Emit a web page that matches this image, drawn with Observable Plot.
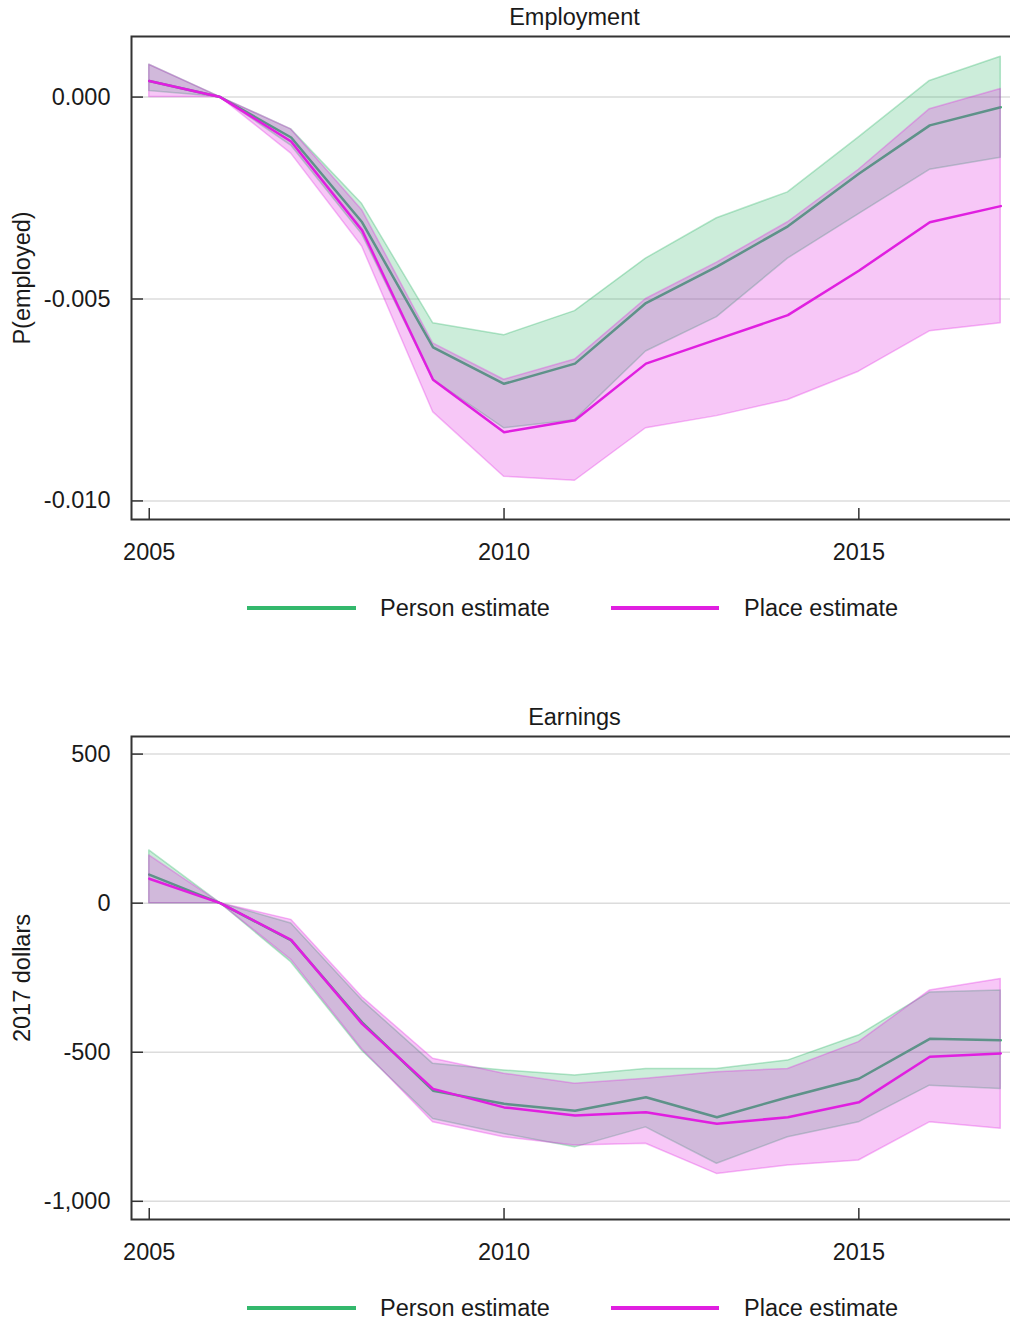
<!DOCTYPE html>
<html><head><meta charset="utf-8">
<script src="https://cdn.jsdelivr.net/npm/d3@7"></script>
<script src="https://cdn.jsdelivr.net/npm/@observablehq/plot@0.6"></script>
<style>
body{margin:0;background:#fff;overflow:hidden;}
#root{position:relative;width:1010px;height:1321px;overflow:hidden;font-family:"Liberation Sans",Arial,sans-serif;color:#1a1a1a;}
.abs{position:absolute;white-space:nowrap;}
.t{font-size:23.5px;line-height:23.5px;}
#root svg{position:absolute;left:0;max-width:none !important;width:1030px !important;height:570px !important;}
</style></head><body><div id="root"></div>
<script>
// ---- data ----
const years = [2005, 2006, 2007, 2008, 2009, 2010, 2011, 2012, 2013, 2014, 2015, 2016, 2017];
const xTicks = [2005, 2010, 2015];

// Employment, P(employed)
const empPerson   = [0.0004, 0, -0.0010, -0.0031, -0.0062, -0.0071, -0.0066, -0.0051, -0.0042, -0.0032, -0.0019, -0.0007, -0.00025];
const empPersonLo = [0.00015, 0, -0.0012, -0.0034, -0.0070, -0.0082, -0.0080, -0.0063, -0.00545, -0.0040, -0.0029, -0.0018, -0.0015];
const empPersonHi = [0.0008, 0, -0.0008, -0.00265, -0.0056, -0.0059, -0.0053, -0.0040, -0.0030, -0.00236, -0.0010, 0.0004, 0.0010];
const empPlace    = [0.0004, 0, -0.0011, -0.0033, -0.0070, -0.0083, -0.0080, -0.0066, -0.0060, -0.0054, -0.0043, -0.0031, -0.0027];
const empPlaceLo  = [0.0000, 0, -0.0014, -0.0037, -0.0078, -0.0094, -0.0095, -0.0082, -0.0079, -0.0075, -0.0068, -0.0058, -0.0056];
const empPlaceHi  = [0.0008, 0, -0.0008, -0.0028, -0.0061, -0.0070, -0.0065, -0.0050, -0.0041, -0.0031, -0.0018, -0.0003, 0.0002];
const empTicks = [0, -0.005, -0.010];

// Earnings, 2017 dollars
const earnPerson   = [96, 0, -125, -400, -629, -673, -696, -651, -718, -651, -589, -455, -460];
const earnPersonLo = [0, 0, -198, -495, -724, -774, -819, -752, -874, -785, -735, -612, -623];
const earnPersonHi = [177, 0, -68, -326, -539, -561, -578, -556, -556, -528, -444, -300, -293];
const earnPlace    = [82, 0, -123, -405, -623, -685, -712, -701, -740, -718, -668, -515, -504];
const earnPlaceLo  = [0, 0, -190, -490, -735, -785, -813, -807, -908, -880, -863, -735, -757];
const earnPlaceHi  = [160, 0, -56, -315, -522, -572, -606, -589, -567, -556, -466, -293, -254];
const earnTicks = [500, 0, -500, -1000];

const seriesNames = ["Person estimate", "Place estimate"];
const green = "#33b86c", magenta = "#e01fe0";

const root = document.getElementById("root");
function el(cls, css, text) {
  const d = document.createElement("div");
  d.className = cls; d.style.cssText = css; if (text != null) d.textContent = text;
  root.appendChild(d); return d;
}
const hyph = s => s.replace(/\u2212/g, "-");

function panel(top, title, ylabel, yDomain, yTicks, fmt, P, PLo, PHi, Q, QLo, QHi) {
  const rows = years.map((year, i) => ({year, p: P[i], pLo: PLo[i], pHi: PHi[i], q: Q[i], qLo: QLo[i], qHi: QHi[i]}));
  const svg = Plot.plot({
    width: 1030, height: 570,
    marginLeft: 131, marginRight: 12, marginTop: 36, marginBottom: 51,
    style: {fontFamily: "'Liberation Sans', Arial, sans-serif", fontSize: "23.5px", color: "#1a1a1a", background: "transparent", maxWidth: "none"},
    x: {domain: [2004.75, 2017.25], label: null},
    y: {domain: yDomain, label: null},
    marks: [
      Plot.gridY(yTicks, {stroke: "#dcdcdc", strokeOpacity: 1, strokeWidth: 1.5}),
      Plot.areaY(rows, {x: "year", y1: "pLo", y2: "pHi", fill: green, fillOpacity: 0.25, stroke: green, strokeOpacity: 0.35, strokeWidth: 1.5}),
      Plot.lineY(rows, {x: "year", y: "p", stroke: green, strokeWidth: 2.5}),
      Plot.areaY(rows, {x: "year", y1: "qLo", y2: "qHi", fill: magenta, fillOpacity: 0.25, stroke: magenta, strokeOpacity: 0.3, strokeWidth: 1.5}),
      Plot.lineY(rows, {x: "year", y: "q", stroke: magenta, strokeWidth: 2.5}),
      Plot.tickX(xTicks, {x: d => d, insetTop: 472, stroke: "#333", strokeWidth: 1.5}),
      Plot.tickY(yTicks, {y: d => d, insetRight: 875, stroke: "#333", strokeWidth: 1.5}),
      Plot.frame({stroke: "#333", strokeWidth: 2}),
      Plot.axisX(xTicks, {tickSize: 0, tickPadding: 24, tickFormat: d => String(d), label: null, fill: "#1a1a1a"}),
      Plot.axisY(yTicks, {tickSize: 0, tickPadding: 21, tickFormat: fmt, label: null, fill: "#1a1a1a"})
    ]
  });
  svg.style.top = top + "px";
  root.appendChild(svg);
  el("abs t", `left:131px;width:887px;text-align:center;top:${top + 6}px;`, title);
  el("abs t", `left:23px;top:${top + 277.5}px;transform:translate(-50%,-50%) rotate(-90deg);`, ylabel);
  // legend
  const ly = top + 608;
  el("abs", `left:247px;top:${ly - 2}px;width:109px;height:4px;background:${green};`);
  el("abs t", `left:380px;top:${ly - 11.5}px;`, seriesNames[0]);
  el("abs", `left:611px;top:${ly - 2}px;width:108px;height:4px;background:${magenta};`);
  el("abs t", `left:744px;top:${ly - 11.5}px;`, seriesNames[1]);
}

panel(0, "Employment", "P(employed)", [-0.01046, 0.0015], empTicks,
  d => hyph(d3.format(".3f")(d)), empPerson, empPersonLo, empPersonHi, empPlace, empPlaceLo, empPlaceHi);
panel(700, "Earnings", "2017 dollars", [-1061, 559], earnTicks,
  d => hyph(d3.format(",")(d)), earnPerson, earnPersonLo, earnPersonHi, earnPlace, earnPlaceLo, earnPlaceHi);
</script></body></html>
